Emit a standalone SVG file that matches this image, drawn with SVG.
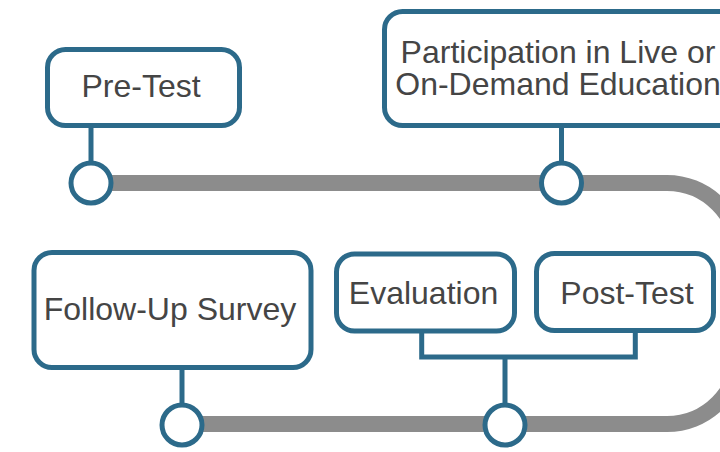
<svg xmlns="http://www.w3.org/2000/svg" width="720" height="452" viewBox="0 0 720 452">
  <style>
    .box { fill: #ffffff; stroke: #2c6a8a; stroke-width: 5; }
    .label { font-family: "Liberation Sans", Arial, sans-serif; font-size: 32px; fill: #454545; text-anchor: middle; }
    .stem { fill: none; stroke: #2c6a8a; stroke-width: 5; }
    .track { fill: none; stroke: #8c8c8c; stroke-width: 16; }
    .stop { fill: #ffffff; stroke: #2c6a8a; stroke-width: 5; }
  </style>

  <!-- timeline track and stems -->
  <g id="connectors">
    <path class="track" d="M 91 183 H 667 A 72 72 0 0 1 739 255 V 352 A 72 72 0 0 1 667 424 H 182"/>
    <path class="stem" d="M 91 127 V 163"/>
    <path class="stem" d="M 561.5 127 V 163"/>
    <path class="stem" d="M 182 369 V 405"/>
    <path class="stem" d="M 421.7 332 V 357 H 635.3 V 332 M 505 357 V 405"/>
  </g>

  <!-- stops on the track -->
  <g id="stops">
    <circle class="stop" cx="91" cy="183" r="20"/>
    <circle class="stop" cx="561.5" cy="183" r="20"/>
    <circle class="stop" cx="182" cy="425" r="20"/>
    <circle class="stop" cx="505" cy="425" r="20"/>
  </g>

  <g id="pre-test">
    <rect class="box" x="47.5" y="49.5" width="192" height="76" rx="18"/>
    <text class="label" x="141" y="97">Pre-Test</text>
  </g>

  <g id="participation">
    <rect class="box" x="384.5" y="11.5" width="380" height="114" rx="18"/>
    <text class="label" x="558" y="63">Participation in Live or<tspan x="558" dy="32">On-Demand Education</tspan></text>
  </g>

  <g id="follow-up-survey">
    <rect class="box" x="34" y="252.5" width="277" height="115" rx="18"/>
    <text class="label" x="170" y="320">Follow-Up Survey</text>
  </g>

  <g id="evaluation">
    <rect class="box" x="336.5" y="254" width="178" height="77" rx="18"/>
    <text class="label" x="423.5" y="304">Evaluation</text>
  </g>

  <g id="post-test">
    <rect class="box" x="536.5" y="253.5" width="177" height="77" rx="18"/>
    <text class="label" x="627" y="304">Post-Test</text>
  </g>
</svg>
